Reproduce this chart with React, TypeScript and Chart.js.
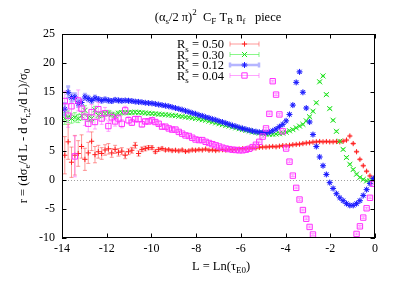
import React, { useEffect, useRef } from "react";
import { Chart, registerables } from "chart.js";
import { drawPoint } from "chart.js/helpers";

Chart.register(...registerables);

const FONT = '"Liberation Serif", "Times New Roman", serif';

// bin centres, L = Ln(tau_E0)
const L = [
  -13.875, -13.725, -13.575, -13.425, -13.275, -13.125, -12.975, -12.825, -12.675, -12.525,
  -12.375, -12.225, -12.075, -11.925, -11.775, -11.625, -11.475, -11.325, -11.175, -11.025,
  -10.875, -10.725, -10.575, -10.425, -10.275, -10.125, -9.975, -9.825, -9.675, -9.525,
  -9.375, -9.225, -9.075, -8.925, -8.775, -8.625, -8.475, -8.325, -8.175, -8.025,
  -7.875, -7.725, -7.575, -7.425, -7.275, -7.125, -6.975, -6.825, -6.675, -6.525,
  -6.375, -6.225, -6.075, -5.925, -5.775, -5.625, -5.475, -5.325, -5.175, -5.025,
  -4.875, -4.725, -4.575, -4.425, -4.275, -4.125, -3.975, -3.825, -3.675, -3.525,
  -3.375, -3.225, -3.075, -2.925, -2.775, -2.625, -2.475, -2.325, -2.175, -2.025,
  -1.875, -1.725, -1.575, -1.425, -1.275, -1.125, -0.975, -0.825, -0.675, -0.525,
  -0.375, -0.225, -0.075,
];

// R_s = 0.50
const r050 = [
  4.2, 6.5, 3.0, 4.2, 4.5, 5.7, 3.5, 4.6, 6.6, 4.3,
  4.8, 4.5, 5.1, 5.3, 4.6, 5.2, 4.7, 4.9, 4.2, 4.8,
  5.05, 5.9, 4.5, 5.2, 5.35, 5.5, 5.5, 4.8, 5.2, 5.35,
  5.1, 5.15, 5.0, 5.05, 4.95, 5.1, 4.85, 4.95, 5.1, 5.05,
  5.15, 5.1, 5.25, 5.05, 5.1, 5.0, 5.1, 5.15, 5.1, 5.2,
  5.15, 5.2, 5.25, 5.3, 5.3, 5.4, 5.45, 5.45, 5.55, 5.6,
  5.6, 5.65, 5.7, 5.65, 5.75, 5.85, 5.85, 5.9, 6.0, 6.05,
  6.1, 6.2, 6.3, 6.35, 6.45, 6.5, 6.55, 6.5, 6.55, 6.5,
  6.5, 6.55, 6.5, 6.6, 6.8, 7.5, 6.2, 4.8, 3.5, 2.4,
  1.45, 0.65, 0.2,
];
const e050 = [
  3.2, 3.0, 2.6, 3.4, 2.2, 2.0, 1.9, 1.8, 1.6, 1.4,
  1.1, 1.0, 0.9, 0.9, 0.75, 0.7, 0.65, 0.6, 0.6, 0.5,
  0.5, 0.5, 0.45, 0.4, 0.4, 0.35, 0.3, 0.3, 0.3, 0.25,
  0.25, 0.2, 0.2, 0.2, 0.2, 0.2, 0.2, 0.2, 0.2, 0.2,
  0.15, 0.15, 0.15, 0.15, 0.15, 0.15, 0.15, 0.15, 0.15, 0.15,
  0.15, 0.15, 0.15, 0.15, 0.15, 0.15, 0.15, 0.15, 0.15, 0.15,
  0.15, 0.15, 0.15, 0.15, 0.15, 0.15, 0.15, 0.15, 0.15, 0.15,
  0.15, 0.15, 0.15, 0.15, 0.15, 0.15, 0.15, 0.15, 0.15, 0.15,
  0.15, 0.15, 0.15, 0.15, 0.15, 0.15, 0.15, 0.15, 0.15, 0.15,
  0.15, 0.15, 0.15,
];

// R_s = 0.30
const r030 = [
  10.5, 10.8, 10.5, 10.7, 10.5, 10.95, 11.9, 10.6, 10.5, 12.0,
  11.05, 11.2, 11.35, 11.45, 11.2, 11.05, 11.4, 11.5, 11.5, 11.5,
  11.55, 11.6, 11.55, 11.5, 11.45, 11.4, 11.35, 11.3, 11.25, 11.2,
  11.15, 11.1, 11.05, 11.0, 10.9, 10.85, 10.75, 10.7, 10.6, 10.5,
  10.4, 10.3, 10.2, 10.05, 9.9, 9.75, 9.6, 9.45, 9.3, 9.2,
  9.05, 8.9, 8.75, 8.6, 8.45, 8.35, 8.2, 8.1, 8.0, 7.9,
  7.85, 7.8, 7.8, 7.85, 7.9, 8.0, 8.15, 8.4, 8.6, 8.9,
  9.2, 9.5, 10.1, 10.8, 11.75, 13.2, 16.8, 17.8, 14.6, 12.2,
  10.2, 8.3, 6.6, 5.2, 3.8, 2.65, 1.75, 0.95, 0.4, 0.05,
  -0.2, -0.2, 0.0,
];
const e030 = [
  1.0, 1.0, 0.8, 0.8, 0.7, 0.7, 0.8, 0.6, 0.6, 0.6,
  0.5, 0.5, 0.45, 0.45, 0.4, 0.4, 0.35, 0.35, 0.3, 0.3,
  0.3, 0.25, 0.25, 0.25, 0.2, 0.2, 0.2, 0.2, 0.2, 0.2,
  0.15, 0.15, 0.15, 0.15, 0.15, 0.15, 0.15, 0.15, 0.15, 0.15,
  0.15, 0.15, 0.15, 0.15, 0.15, 0.15, 0.15, 0.15, 0.15, 0.15,
  0.15, 0.15, 0.15, 0.15, 0.15, 0.15, 0.15, 0.15, 0.15, 0.15,
  0.15, 0.15, 0.15, 0.15, 0.15, 0.15, 0.15, 0.15, 0.15, 0.15,
  0.15, 0.15, 0.15, 0.15, 0.15, 0.15, 0.15, 0.15, 0.15, 0.15,
  0.15, 0.15, 0.15, 0.15, 0.15, 0.15, 0.15, 0.15, 0.15, 0.15,
  0.15, 0.15, 0.15,
];

// R_s = 0.12
const r012 = [
  12.1, 15.0, 14.1, 14.2, 13.1, 13.25, 14.2, 13.9, 13.6, 14.0,
  13.8, 13.6, 13.75, 13.6, 13.5, 13.7, 13.6, 13.55, 13.6, 13.55,
  13.5, 13.4, 13.35, 13.3, 13.2, 13.15, 13.1, 13.0, 12.9, 12.8,
  12.7, 12.6, 12.45, 12.3, 12.15, 12.0, 11.8, 11.65, 11.45, 11.3,
  11.1, 10.95, 10.75, 10.6, 10.4, 10.25, 10.05, 9.9, 9.7, 9.5,
  9.3, 9.15, 8.95, 8.8, 8.65, 8.5, 8.35, 8.25, 8.15, 8.1,
  8.05, 8.15, 8.4, 8.7, 9.1, 9.5, 10.1, 11.2, 12.8, 16.7,
  18.5, 15.0, 12.3, 9.9, 7.75, 5.7, 3.9, 2.4, 0.9, -0.5,
  -1.5, -2.4, -3.1, -3.6, -4.1, -4.4, -4.4, -4.1, -3.6, -2.7,
  -1.7, -0.65, 0.2,
];
const e012 = [
  1.0, 1.0, 0.7, 0.6, 0.6, 0.5, 0.5, 0.45, 0.4, 0.4,
  0.35, 0.35, 0.3, 0.3, 0.3, 0.25, 0.25, 0.25, 0.2, 0.2,
  0.2, 0.2, 0.2, 0.15, 0.15, 0.15, 0.15, 0.15, 0.15, 0.15,
  0.15, 0.15, 0.15, 0.15, 0.15, 0.15, 0.15, 0.15, 0.15, 0.15,
  0.15, 0.15, 0.15, 0.15, 0.15, 0.15, 0.15, 0.15, 0.15, 0.15,
  0.15, 0.15, 0.15, 0.15, 0.15, 0.15, 0.15, 0.15, 0.15, 0.15,
  0.15, 0.15, 0.15, 0.15, 0.15, 0.15, 0.15, 0.15, 0.15, 0.15,
  0.15, 0.15, 0.15, 0.15, 0.15, 0.15, 0.15, 0.15, 0.15, 0.15,
  0.15, 0.15, 0.15, 0.15, 0.15, 0.15, 0.15, 0.15, 0.15, 0.15,
  0.15, 0.15, 0.15,
];

// R_s = 0.04 (null: below the plotted range)
const r004 = [
  13.5, 11.0, 12.6, 4.0, 13.6, 12.2, 10.8, 9.6, 11.6, 9.9,
  12.1, 10.5, 11.4, 9.2, 10.7, 10.0, 10.5, 9.6, 11.9, 10.2,
  9.8, 10.4, 10.4, 9.5, 10.0, 10.0, 10.2, 9.9, 9.6, 9.1,
  9.1, 8.8, 8.6, 8.6, 8.2, 7.9, 7.6, 7.5, 7.2, 6.9,
  6.8, 6.8, 6.5, 6.3, 6.1, 5.9, 5.7, 5.5, 5.35, 5.25,
  5.15, 5.1, 5.05, 5.05, 5.15, 5.3, 5.6, 6.0, 6.5, 7.4,
  8.8, 11.3, 16.9, 14.6, 11.2, 8.3, 5.35, 3.1, 0.7, -1.4,
  -3.4, -5.2, -6.7, -8.1, -9.4, null, null, null, null, null,
  null, null, null, null, null, null, null, -9.3, -8.0, -6.5,
  -4.9, -3.1, -0.7,
];
const e004 = [
  1.7, 2.0, 1.5, 3.5, 1.8, 1.5, 1.5, 1.4, 1.3, 1.2,
  1.2, 1.0, 1.0, 0.9, 0.8, 0.8, 0.7, 0.7, 0.7, 0.6,
  0.5, 0.5, 0.45, 0.45, 0.4, 0.4, 0.35, 0.35, 0.3, 0.3,
  0.3, 0.25, 0.25, 0.25, 0.2, 0.2, 0.2, 0.2, 0.2, 0.2,
  0.15, 0.15, 0.15, 0.15, 0.15, 0.15, 0.15, 0.15, 0.15, 0.15,
  0.15, 0.15, 0.15, 0.15, 0.15, 0.15, 0.15, 0.15, 0.15, 0.15,
  0.15, 0.15, 0.15, 0.15, 0.15, 0.15, 0.15, 0.15, 0.15, 0.15,
  0.15, 0.15, 0.15, 0.15, 0.15, 0.15, 0.15, 0.15, 0.15, 0.15,
  0.15, 0.15, 0.15, 0.15, 0.15, 0.15, 0.15, 0.15, 0.15, 0.15,
  0.15, 0.15, 0.15,
];

const seriesLabels = ["0.50", "0.30", "0.12", "0.04"];
const xTicks = [-14, -12, -10, -8, -6, -4, -2, 0];
const yTicks = [-10, -5, 0, 5, 10, 15, 20, 25];

const styles = [
  { point: "cross", radius: 2.6, color: "#ff1f1f", bar: "rgba(255,70,70,0.55)", barW: 1 },
  { point: "crossRot", radius: 3.6, color: "#1fe01f", bar: "rgba(60,240,60,0.6)", barW: 1 },
  { point: "star", radius: 3.0, color: "#1a1aff", bar: "rgba(90,90,255,0.45)", barW: 2.5 },
  { point: "rect", radius: 3.8, color: "#ff30ff", bar: "rgba(255,90,255,0.55)", barW: 1 },
];

type Part = { t: string; k?: "sub" | "sup" };

function drawRich(ctx: CanvasRenderingContext2D, parts: Part[], x: number, y: number, size: number, align: "left" | "center" | "right") {
  const small = size * 0.72;
  const widths = parts.map((p) => {
    ctx.font = `${p.k ? small : size}px ${FONT}`;
    return ctx.measureText(p.t).width;
  });
  const total = widths.reduce((a, b) => a + b, 0);
  let cx = align === "center" ? x - total / 2 : align === "right" ? x - total : x;
  ctx.textAlign = "left";
  ctx.textBaseline = "alphabetic";
  parts.forEach((p, i) => {
    ctx.font = `${p.k ? small : size}px ${FONT}`;
    const dy = p.k === "sub" ? size * 0.28 : p.k === "sup" ? -size * 0.42 : 0;
    ctx.fillText(p.t, cx, y + dy);
    cx += widths[i];
  });
}

const gnuplotLook = {
  id: "gnuplotLook",
  beforeDatasetsDraw(chart: any) {
    const { ctx, chartArea: a, scales } = chart;
    const y0 = Math.round(scales.y.getPixelForValue(0)) + 0.5;
    ctx.save();
    ctx.strokeStyle = "#a0a0a0";
    ctx.lineWidth = 1;
    ctx.setLineDash([1, 2]);
    ctx.beginPath();
    ctx.moveTo(a.left, y0);
    ctx.lineTo(a.right, y0);
    ctx.stroke();
    ctx.restore();
  },
  beforeDatasetDraw(chart: any, args: any) {
    const { ctx, chartArea: a, scales } = chart;
    const ds = chart.data.datasets[args.index];
    const meta = args.meta;
    ctx.save();
    ctx.beginPath();
    ctx.rect(a.left, a.top, a.right - a.left, a.bottom - a.top);
    ctx.clip();
    ctx.strokeStyle = ds.barColor;
    ctx.lineWidth = ds.barWidth;
    ctx.beginPath();
    meta.data.forEach((el: any, j: number) => {
      const d = ds.data[j];
      const px = el.x;
      const yl = scales.y.getPixelForValue(d.y - d.e);
      const yh = scales.y.getPixelForValue(d.y + d.e);
      ctx.moveTo(px, yl);
      ctx.lineTo(px, yh);
      ctx.moveTo(px - 2, yl);
      ctx.lineTo(px + 2, yl);
      ctx.moveTo(px - 2, yh);
      ctx.lineTo(px + 2, yh);
    });
    ctx.stroke();
    ctx.restore();
  },
  afterDraw(chart: any) {
    const { ctx, chartArea: a, scales } = chart;
    ctx.save();
    // ticks (inward, mirrored)
    ctx.strokeStyle = "#000";
    ctx.lineWidth = 1;
    ctx.beginPath();
    const tl = 4.5;
    xTicks.forEach((v) => {
      const px = Math.round(scales.x.getPixelForValue(v)) + 0.5;
      ctx.moveTo(px, a.bottom);
      ctx.lineTo(px, a.bottom - tl);
      ctx.moveTo(px, a.top);
      ctx.lineTo(px, a.top + tl);
    });
    yTicks.forEach((v) => {
      const py = Math.round(scales.y.getPixelForValue(v)) + 0.5;
      ctx.moveTo(a.left, py);
      ctx.lineTo(a.left + tl, py);
      ctx.moveTo(a.right, py);
      ctx.lineTo(a.right - tl, py);
    });
    ctx.stroke();
    ctx.strokeRect(a.left + 0.5, a.top + 0.5, a.right - a.left - 1, a.bottom - a.top - 1);

    ctx.fillStyle = "#000";
    // title
    drawRich(
      ctx,
      [
        { t: "(α" }, { t: "s", k: "sub" }, { t: "/2 π)" }, { t: "2", k: "sup" },
        { t: "  C" }, { t: "F", k: "sub" }, { t: " T" }, { t: "R", k: "sub" },
        { t: " n" }, { t: "f", k: "sub" }, { t: "   piece" },
      ],
      218, 20.5, 12.5, "center"
    );
    // x label
    drawRich(ctx, [{ t: "L = Ln(τ" }, { t: "E0", k: "sub" }, { t: ")" }], 221, 269.5, 12.5, "center");
    // y label
    ctx.save();
    ctx.translate(26.5, 136);
    ctx.rotate(-Math.PI / 2);
    drawRich(
      ctx,
      [
        { t: "r = (dσ" }, { t: "e", k: "sub" }, { t: "/d L - d σ" }, { t: "r,2", k: "sub" },
        { t: "/d L)/σ" }, { t: "0", k: "sub" },
      ],
      0, 0, 12.5, "center"
    );
    ctx.restore();

    // legend
    seriesLabels.forEach((lab, k) => {
      const st = styles[k];
      const ly = 44 + 10.5 * k;
      ctx.fillStyle = "#000";
      drawRich(ctx, [{ t: "R" }, { t: "s", k: "sub" }, { t: " = " + lab }], 224, ly + 4, 12.5, "right");
      ctx.strokeStyle = st.bar;
      ctx.lineWidth = st.barW;
      ctx.beginPath();
      ctx.moveTo(230, ly);
      ctx.lineTo(259, ly);
      ctx.moveTo(230, ly - 2.5);
      ctx.lineTo(230, ly + 2.5);
      ctx.moveTo(259, ly - 2.5);
      ctx.lineTo(259, ly + 2.5);
      ctx.stroke();
      ctx.strokeStyle = st.color;
      ctx.fillStyle = "rgba(0,0,0,0)";
      ctx.lineWidth = 1;
      drawPoint(ctx, { pointStyle: st.point, radius: st.radius, borderWidth: 1, rotation: 0 } as any, 244.5, ly);
    });
    ctx.restore();
  },
};

function makeData(ys: (number | null)[], es: number[]) {
  return L.map((x, i) => ({ x, y: ys[i], e: es[i] })).filter((p) => p.y !== null);
}

export default function App() {
  const ref = useRef<HTMLCanvasElement | null>(null);
  useEffect(() => {
    if (!ref.current) return;
    const series = [
      [r050, e050],
      [r030, e030],
      [r012, e012],
      [r004, e004],
    ];
    const datasets = series.map(([ys, es], k) => ({
      label: "R_s = " + seriesLabels[k],
      data: makeData(ys as any, es as any),
      showLine: false,
      pointStyle: styles[k].point,
      pointRadius: styles[k].radius,
      pointBorderWidth: 1,
      pointBorderColor: styles[k].color,
      pointBackgroundColor: "rgba(0,0,0,0)",
      borderColor: styles[k].color,
      backgroundColor: "rgba(0,0,0,0)",
      barColor: styles[k].bar,
      barWidth: styles[k].barW,
      order: 3 - k,
    }));
    const tickFont = { family: FONT, size: 12 };
    const chart = new Chart(ref.current, {
      type: "scatter",
      data: { datasets } as any,
      options: {
        responsive: false,
        animation: false,
        events: [],
        layout: { padding: { left: 0, top: 34, right: 34, bottom: 0 } },
        plugins: { legend: { display: false }, title: { display: false }, tooltip: { enabled: false } },
        scales: {
          x: {
            type: "linear",
            min: -14,
            max: 0,
            grid: { display: false, drawTicks: false },
            border: { display: false },
            afterBuildTicks: (s: any) => { s.ticks = xTicks.map((v) => ({ value: v })); },
            afterFit: (s: any) => { s.height = 48; },
            ticks: { color: "#000", font: tickFont, padding: 4, maxRotation: 0, autoSkip: false },
          },
          y: {
            type: "linear",
            min: -10,
            max: 25,
            grid: { display: false, drawTicks: false },
            border: { display: false },
            afterBuildTicks: (s: any) => { s.ticks = yTicks.map((v) => ({ value: v })); },
            afterFit: (s: any) => { s.width = 62; },
            ticks: { color: "#000", font: tickFont, padding: 7, autoSkip: false },
          },
        },
      } as any,
      plugins: [gnuplotLook as any],
    });
    return () => chart.destroy();
  }, []);
  return (
    <div style={{ position: "fixed", left: 0, top: 0, width: 409, height: 286, background: "#fff" }}>
      <canvas ref={ref} width={409} height={286} style={{ display: "block" }} />
    </div>
  );
}
